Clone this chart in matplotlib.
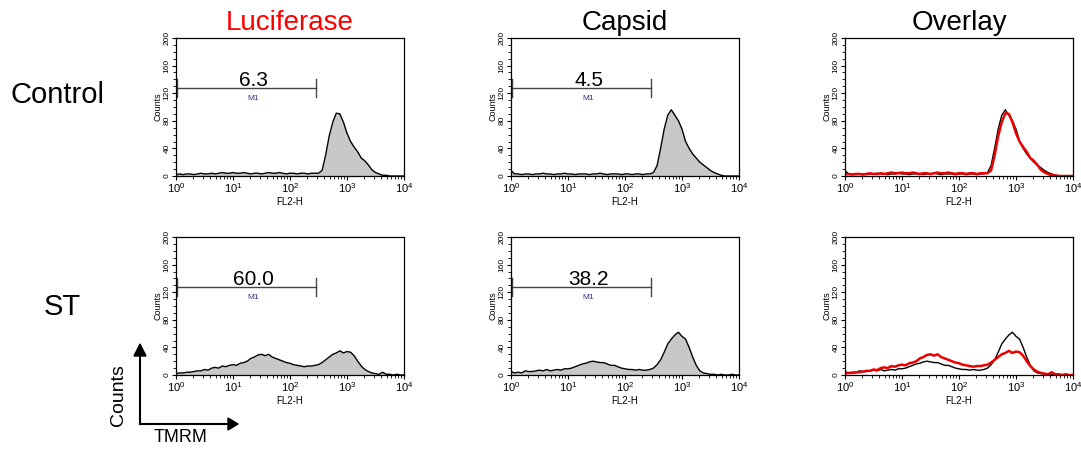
import numpy as np
import matplotlib.pyplot as plt
from matplotlib.ticker import LogLocator, MultipleLocator, NullFormatter

plt.rcParams['font.family'] = ['Liberation Sans', 'DejaVu Sans']

# channel positions, 16 per decade from 10^0 to 10^4
exps = np.arange(65) / 16.0
fl2 = 10 ** exps

# counts per channel
ctrl_luc = [2, 3, 2, 3, 3, 2, 3, 4, 3, 3, 4, 3, 4, 5, 4, 4,
            5, 4, 4, 5, 4, 3, 4, 4, 3, 4, 5, 4, 4, 5, 4, 3,
            4, 4, 3, 4, 4, 3, 4, 4, 4, 8, 30, 58, 78, 91, 90, 78,
            62, 50, 42, 35, 26, 22, 16, 9, 5, 3, 1, 1, 0, 0, 0, 0, 0]
ctrl_cap = [8, 3, 3, 2, 3, 3, 2, 3, 3, 4, 3, 3, 2, 3, 3, 4,
            3, 3, 2, 3, 3, 3, 2, 3, 3, 4, 3, 2, 3, 3, 3, 2,
            3, 3, 2, 3, 3, 2, 3, 3, 5, 15, 40, 68, 88, 96, 88, 80,
            68, 50, 40, 32, 26, 20, 16, 12, 8, 5, 3, 1, 0, 0, 0, 0, 0]
st_luc = [2, 3, 3, 4, 4, 5, 6, 6, 8, 7, 10, 11, 10, 13, 12, 14,
          15, 14, 17, 18, 20, 24, 26, 29, 30, 28, 30, 26, 24, 22, 20, 18,
          17, 15, 14, 13, 12, 13, 13, 14, 15, 18, 22, 26, 30, 32, 35, 32,
          34, 33, 28, 20, 13, 8, 5, 3, 2, 1, 4, 1, 1, 0, 1, 0, 0]
st_cap = [5, 3, 4, 3, 6, 5, 5, 6, 7, 6, 8, 6, 7, 8, 7, 9,
          9, 10, 12, 14, 16, 17, 19, 20, 19, 18, 18, 16, 14, 14, 12, 10,
          9, 8, 8, 7, 8, 7, 7, 8, 10, 15, 22, 33, 45, 52, 58, 62,
          56, 52, 40, 26, 14, 6, 3, 2, 1, 1, 0, 1, 0, 0, 1, 0, 0]

col_titles = ['Luciferase', 'Capsid', 'Overlay']
title_colors = ['#ff0000', 'black', 'black']
row_labels = ['Control', 'ST']
gates = [['6.3', '4.5'], ['60.0', '38.2']]
gate_lo, gate_hi, gate_y = 1.05, 290, 127

W, H = 1081, 453
fig = plt.figure(figsize=(W / 100, H / 100), dpi=100)

lefts = [176, 511, 845]
tops = [38, 237]
aw, ah = 228, 138

data = [[ctrl_luc, ctrl_cap], [st_luc, st_cap]]

for r in range(2):
    for c in range(3):
        ax = fig.add_axes([lefts[c] / W, 1 - (tops[r] + ah) / H, aw / W, ah / H])
        luc, cap = data[r]
        if c < 2:
            y = data[r][c]
            ax.fill_between(fl2, y, color='#c8c8c8', lw=0)
            ax.plot(fl2, y, color='black', lw=1.0)
            # M1 marker
            ax.plot([gate_lo, gate_hi], [gate_y, gate_y], color='#444444', lw=1)
            for gx in (gate_lo, gate_hi):
                ax.plot([gx, gx], [114, 140], color='#444444', lw=1)
            ax.text(23, 130, gates[r][c], ha='center', va='baseline', fontsize=15)
            ax.text(23, 117, 'M1', ha='center', va='top', fontsize=6, color='#333388')
        else:
            ax.plot(fl2, cap, color='black', lw=1.0)
            ax.plot(fl2, luc, color='#ee0000', lw=1.8)
        ax.set_xscale('log')
        ax.set_xlim(1, 1e4)
        ax.set_ylim(0, 200)
        ax.xaxis.set_major_locator(LogLocator(base=10, numticks=10))
        ax.xaxis.set_minor_locator(LogLocator(base=10, subs=np.arange(2, 10), numticks=10))
        ax.xaxis.set_minor_formatter(NullFormatter())
        ax.yaxis.set_major_locator(MultipleLocator(40))
        ax.yaxis.set_minor_locator(MultipleLocator(10))
        ax.tick_params(axis='x', which='major', labelsize=8, length=3, width=0.8, pad=1)
        ax.tick_params(axis='x', which='minor', length=2, width=0.6)
        ax.tick_params(axis='y', which='major', labelsize=6, length=3, width=0.8,
                       labelrotation=90, pad=1)
        ax.tick_params(axis='y', which='minor', length=2, width=0.6)
        for lab in ax.get_yticklabels():
            lab.set_va('center')
        ax.set_xlabel('FL2-H', fontsize=7, labelpad=1)
        ax.set_ylabel('Counts', fontsize=6.5, labelpad=1)
        for s in ax.spines.values():
            s.set_linewidth(0.9)
        if r == 0:
            ax.set_title(col_titles[c], fontsize=20, color=title_colors[c], pad=6)

# row labels
fig.text(57 / W, 1 - 95 / H, row_labels[0], fontsize=21, ha='center', va='center')
fig.text(62 / W, 1 - 307 / H, row_labels[1], fontsize=21, ha='center', va='center')

# axis legend arrows
fig.add_artist(plt.Line2D([140 / W, 140 / W], [1 - 424 / H, 1 - 352 / H],
                          transform=fig.transFigure, color='black', lw=1.5))
fig.add_artist(plt.Line2D([140 / W, 230 / W], [1 - 424 / H, 1 - 424 / H],
                          transform=fig.transFigure, color='black', lw=1.5))
fig.patches.append(plt.Polygon([[134 / W, 1 - 356 / H], [146 / W, 1 - 356 / H], [140 / W, 1 - 344 / H]],
                               closed=True, color='black', transform=fig.transFigure, figure=fig))
fig.patches.append(plt.Polygon([[228 / W, 1 - 418 / H], [228 / W, 1 - 430 / H], [238 / W, 1 - 424 / H]],
                               closed=True, color='black', transform=fig.transFigure, figure=fig))
fig.text(119 / W, 1 - 395 / H, 'Counts', fontsize=14, rotation=90, ha='center', va='center')
fig.text(181 / W, 1 - 438 / H, 'TMRM', fontsize=13, ha='center', va='center')

fig.savefig('out.png', dpi=100)
